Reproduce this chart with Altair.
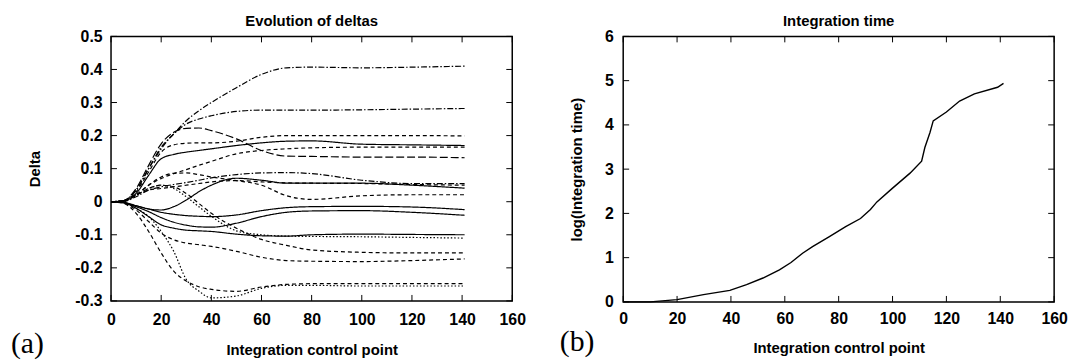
import altair as alt
import pandas as pd

# ---------------- data ----------------
X_GRID = [0, 5, 10, 15, 20, 25, 30, 35, 40, 50, 60, 70, 80, 100, 120, 141]

s01 = [0, 0.003, 0.035, 0.10, 0.165, 0.205, 0.245, 0.275, 0.30, 0.345, 0.385, 0.405, 0.407, 0.405, 0.407, 0.41]
s02 = [0, 0.003, 0.035, 0.10, 0.16, 0.205, 0.235, 0.25, 0.26, 0.273, 0.277, 0.277, 0.277, 0.278, 0.28, 0.282]
s03 = [0, 0.002, 0.03, 0.09, 0.15, 0.172, 0.177, 0.178, 0.178, 0.183, 0.195, 0.2, 0.2, 0.2, 0.2, 0.199]
s04 = [0, 0.003, 0.04, 0.11, 0.175, 0.21, 0.222, 0.223, 0.215, 0.19, 0.155, 0.138, 0.137, 0.135, 0.135, 0.133]
s05 = [0, 0.002, 0.025, 0.08, 0.13, 0.143, 0.15, 0.155, 0.16, 0.17, 0.178, 0.183, 0.184, 0.174, 0.172, 0.17]
s06 = [0, 0.002, 0.02, 0.05, 0.07, 0.085, 0.097, 0.11, 0.122, 0.145, 0.155, 0.16, 0.163, 0.165, 0.165, 0.165]
s07 = [0, 0.002, 0.02, 0.05, 0.075, 0.086, 0.087, 0.082, 0.075, 0.064, 0.05, 0.018, 0.007, 0.018, 0.021, 0.021]
s08 = [0, 0.001, 0.015, 0.035, 0.045, 0.052, 0.058, 0.065, 0.072, 0.082, 0.087, 0.088, 0.085, 0.065, 0.055, 0.055]
s09 = [0, -0.003, -0.012, -0.022, -0.025, -0.015, 0.005, 0.03, 0.05, 0.071, 0.065, 0.056, 0.056, 0.056, 0.05, 0.041]
s10 = [0, 0.002, 0.02, 0.035, 0.04, 0.045, 0.05, 0.055, 0.06, 0.064, 0.06, 0.057, 0.056, 0.055, 0.052, 0.05]
s11 = [0, 0.004, 0.02, 0.04, 0.05, 0.04, 0.015, -0.015, -0.044, -0.088, -0.1, -0.104, -0.105, -0.106, -0.108, -0.11]
s12 = [0, 0.004, 0.02, 0.04, 0.05, 0.045, 0.025, -0.005, -0.035, -0.08, -0.114, -0.132, -0.146, -0.153, -0.155, -0.155]
s13 = [0, -0.002, -0.012, -0.022, -0.032, -0.038, -0.042, -0.044, -0.045, -0.04, -0.027, -0.018, -0.015, -0.014, -0.016, -0.024]
s14 = [0, -0.003, -0.015, -0.03, -0.048, -0.062, -0.071, -0.076, -0.077, -0.065, -0.045, -0.032, -0.028, -0.027, -0.032, -0.041]
s15 = [0, -0.003, -0.02, -0.045, -0.07, -0.08, -0.086, -0.088, -0.09, -0.098, -0.103, -0.104, -0.1, -0.098, -0.099, -0.1]
s16 = [0, -0.004, -0.025, -0.06, -0.095, -0.115, -0.125, -0.13, -0.135, -0.15, -0.168, -0.178, -0.18, -0.181, -0.178, -0.173]
s17 = [0, -0.005, -0.035, -0.09, -0.155, -0.21, -0.24, -0.257, -0.265, -0.271, -0.258, -0.25, -0.248, -0.248, -0.248, -0.248]
s18 = [0, -0.002, -0.02, -0.045, -0.09, -0.15, -0.235, -0.27, -0.291, -0.285, -0.262, -0.253, -0.253, -0.255, -0.255, -0.255]

SERIES = [s01, s02, s03, s04, s05, s06, s07, s08, s09,
          s10, s11, s12, s13, s14, s15, s16, s17, s18]
STYLES = ["dashdot", "dashdot", "dashed", "longdash", "solid", "dashed",
          "dashed", "dashdot", "solid", "dashed", "dotted", "dashed",
          "solid", "solid", "solid", "dashed", "dashed", "dotted"]

STYLE_NAMES = ["solid", "dashed", "longdash", "dotted", "dashdot"]
STYLE_DASH = [[1, 0], [4, 3], [8, 3], [1.5, 2], [6, 2, 1.5, 2]]

RX = [0, 10, 20, 29.8, 39.6, 45.8, 51.9, 58, 62.3, 66.6, 70.3, 76.4, 82.6, 88.1,
      91.8, 94.2, 99.8, 106.5, 110.8, 112, 113.9, 115.1, 120, 124.9, 130.4, 139, 141.2]
RY = [0, 0, 0.05, 0.165, 0.26, 0.39, 0.54, 0.725, 0.89, 1.1, 1.25, 1.47, 1.70, 1.885,
      2.09, 2.26, 2.56, 2.91, 3.18, 3.49, 3.83, 4.09, 4.29, 4.54, 4.70, 4.85, 4.94]

X_TICKS = [0, 20, 40, 60, 80, 100, 120, 140, 160]
LEFT_Y_TICKS = [-0.3, -0.2, -0.1, 0, 0.1, 0.2, 0.3, 0.4, 0.5]
RIGHT_Y_TICKS = [0, 1, 2, 3, 4, 5, 6]

LEFT_TITLE = "Evolution of deltas"
RIGHT_TITLE = "Integration time"
X_LABEL = "Integration control point"
LEFT_Y_LABEL = "Delta"
RIGHT_Y_LABEL = "log(Integration time)"
PANEL_TAGS = ["(a)", "(b)"]

# ---------------- build tables ----------------
rows = []
for i, (vals, st) in enumerate(zip(SERIES, STYLES)):
    for x, v in zip(X_GRID, vals):
        rows.append({"x": x, "y": v, "series": f"s{i+1:02d}", "style": st})
left_df = pd.DataFrame(rows)
right_df = pd.DataFrame({"x": RX, "y": RY})

xt_df = pd.DataFrame({"x": X_TICKS})
lyt_df = pd.DataFrame({"y": LEFT_Y_TICKS})
ryt_df = pd.DataFrame({"y": RIGHT_Y_TICKS})

FONT = "Liberation Sans"
W1, H1 = 405, 267
W2, H2 = 435, 268
TL = 6  # inward tick length


def panel(w, h, ydom, yticks, ytick_df, title, titley, ytitle, titlex, xlabpad,
          ylabpad, xtitley, tag, tagx, tagy, line, ylabel_expr=None):
    xs = alt.Scale(domain=[0, 160], nice=False, zero=False)
    ys = alt.Scale(domain=ydom, nice=False, zero=False)
    yaxis_kw = dict(values=yticks, title=ytitle, labelPadding=ylabpad,
                    titleX=titlex, titleY=h / 2, titleBaseline="middle",
                    labelFlush=False, labelOverlap=False)
    if ylabel_expr:
        yaxis_kw["labelExpr"] = ylabel_expr
    yaxis = alt.Axis(**yaxis_kw)
    xaxis = alt.Axis(values=X_TICKS, title=X_LABEL, labelPadding=xlabpad,
                     titleY=xtitley, titleBaseline="middle", labelFlush=False,
                     labelOverlap=False)
    main = line.encode(
        x=alt.X("x:Q", scale=xs, axis=xaxis),
        y=alt.Y("y:Q", scale=ys, axis=yaxis),
    )
    rule = dict(color="black", strokeWidth=1)
    xt_top = alt.Chart(xt_df).mark_rule(**rule).encode(
        x=alt.X("x:Q", scale=xs, axis=xaxis), y=alt.value(0), y2=alt.value(TL))
    xt_bot = alt.Chart(xt_df).mark_rule(**rule).encode(
        x=alt.X("x:Q", scale=xs, axis=xaxis), y=alt.value(h), y2=alt.value(h - TL))
    yt_l = alt.Chart(ytick_df).mark_rule(**rule).encode(
        y=alt.Y("y:Q", scale=ys, axis=yaxis), x=alt.value(0), x2=alt.value(TL))
    yt_r = alt.Chart(ytick_df).mark_rule(**rule).encode(
        y=alt.Y("y:Q", scale=ys, axis=yaxis), x=alt.value(w - TL), x2=alt.value(w))
    tag_layer = alt.Chart(pd.DataFrame({"t": [tag]})).mark_text(
        font="Liberation Serif", fontSize=30, align="left", baseline="middle",
        color="black").encode(text="t:N", x=alt.value(tagx), y=alt.value(tagy))
    title_layer = alt.Chart(pd.DataFrame({"t": [title]})).mark_text(
        font=FONT, fontSize=15, fontWeight="bold", align="center",
        baseline="middle", color="black").encode(
        text="t:N", x=alt.value(w / 2), y=alt.value(titley))
    return alt.layer(main, xt_top, xt_bot, yt_l, yt_r, tag_layer,
                     title_layer).properties(width=w, height=h)


left_line = alt.Chart(left_df).mark_line(
    color="black", strokeWidth=1.2, interpolate="monotone").encode(
    detail="series:N",
    strokeDash=alt.StrokeDash("style:N", scale=alt.Scale(domain=STYLE_NAMES, range=STYLE_DASH),
                              legend=None),
)
right_line = alt.Chart(right_df).mark_line(color="black", strokeWidth=1.4)

left = panel(W1, H1, [-0.3, 0.5], LEFT_Y_TICKS, lyt_df, LEFT_TITLE, -15,
             LEFT_Y_LABEL, -77, 11, 9, 49.5, PANEL_TAGS[0], -101, 311, left_line,
             ylabel_expr="toString(round(datum.value*10)/10)")
right = panel(W2, H2, [0, 6], RIGHT_Y_TICKS, ryt_df, RIGHT_TITLE, -16,
              RIGHT_Y_LABEL, -47, 9, 10, 46.5, PANEL_TAGS[1], -64, 309, right_line)

chart = alt.hconcat(left, right, spacing=32).properties(
    padding={"left": 2, "top": 3, "right": 0, "bottom": 0},
    background="white",
).configure_view(stroke="black", strokeWidth=1.5, strokeOpacity=1).configure_axis(
    domain=False, ticks=False, grid=False,
    labelFont=FONT, labelFontSize=16, labelFontWeight="bold", labelColor="black",
    titleFont=FONT, titleFontSize=15, titleFontWeight="bold", titleColor="black",
)

chart.save("out.html", embed_options={"renderer": "svg", "actions": False})
